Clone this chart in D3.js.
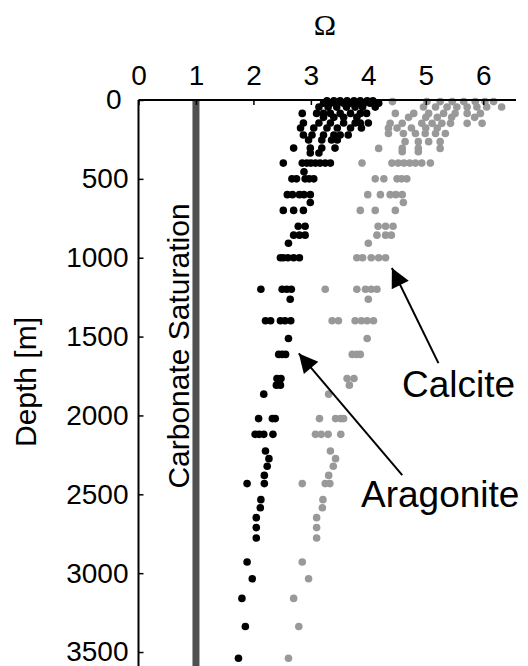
<!DOCTYPE html>
<html>
<head>
<meta charset="utf-8">
<script src="https://cdn.jsdelivr.net/npm/d3@7"></script>
<style>
  body { margin: 0; background: #fff; }
  svg { display: block; font-family: "Liberation Sans", Arial, sans-serif; }
</style>
</head>
<body>
<svg id="chart" width="528" height="666"></svg>
<script>
// Saturation state vs depth, [depth (m), omega]
var aragonite = [
    [5, 3.28], [5, 3.40], [5, 3.51], [5, 3.63], [5, 3.75], [5, 3.86], [5, 3.98], [5, 4.08],
    [20, 3.22], [20, 3.34], [20, 3.46], [20, 3.57], [20, 3.69], [20, 3.80], [20, 3.92], [20, 4.03], [20, 4.18],
    [45, 3.14], [45, 3.30], [45, 3.45], [45, 3.62], [45, 3.77], [45, 3.90], [45, 4.12],
    [85, 2.85], [85, 3.10], [85, 3.22], [85, 3.34], [85, 3.51], [85, 3.69], [85, 3.86], [85, 3.97],
    [110, 3.22], [110, 3.40], [110, 3.57], [110, 3.80],
    [146, 2.87], [146, 3.14], [146, 3.34], [146, 3.57], [146, 3.77], [146, 3.86], [146, 4.00],
    [178, 2.82], [178, 3.05], [178, 3.28], [178, 3.46], [178, 3.69], [178, 3.88],
    [222, 2.87], [222, 3.02], [222, 3.22], [222, 3.40], [222, 3.51], [222, 3.65],
    [254, 2.96], [254, 3.19], [254, 3.36], [254, 3.46],
    [305, 2.70], [305, 2.99], [305, 3.19], [305, 3.42],
    [336, 2.99], [336, 3.14],
    [400, 2.52], [400, 2.85], [400, 2.93], [400, 3.00], [400, 3.08], [400, 3.16], [400, 3.25], [400, 3.34],
    [455, 2.88],
    [500, 2.67], [500, 2.75], [500, 2.90], [500, 2.97], [500, 3.05],
    [600, 2.59], [600, 2.68], [600, 2.80], [600, 2.88], [600, 2.99],
    [650, 2.99],
    [700, 2.52], [700, 2.70], [700, 2.87],
    [800, 2.78], [800, 2.90],
    [857, 2.70], [857, 2.80], [857, 2.90],
    [908, 2.61],
    [1000, 2.47], [1000, 2.52], [1000, 2.60], [1000, 2.70], [1000, 2.80],
    [1200, 2.13], [1200, 2.50], [1200, 2.58], [1200, 2.66],
    [1263, 2.64],
    [1400, 2.21], [1400, 2.30], [1400, 2.47], [1400, 2.55], [1400, 2.65],
    [1512, 2.61],
    [1613, 2.44], [1613, 2.50], [1613, 2.56],
    [1766, 2.41], [1766, 2.48],
    [1808, 2.40], [1808, 2.47],
    [1865, 2.18],
    [2020, 2.09], [2020, 2.33], [2020, 2.38],
    [2120, 2.03], [2120, 2.10], [2120, 2.18], [2120, 2.34],
    [2225, 2.21], [2274, 2.27], [2322, 2.24], [2380, 2.19],
    [2432, 1.89], [2432, 2.19],
    [2534, 2.13], [2585, 2.12], [2648, 2.05], [2711, 2.05], [2777, 2.05],
    [2929, 1.89], [3035, 1.98], [3160, 1.80], [3338, 1.86], [3539, 1.74]
];

var calcite = [
    [10, 4.42], [10, 5.02], [10, 5.25], [10, 5.46], [10, 5.66], [10, 5.86], [10, 6.03], [10, 6.18],
    [44, 4.96], [44, 5.17], [44, 5.37], [44, 5.54], [44, 5.72], [44, 5.89], [44, 6.06], [44, 6.32],
    [85, 4.47], [85, 4.79], [85, 5.05], [85, 5.31], [85, 5.51], [85, 5.72], [85, 5.95],
    [110, 4.70], [110, 5.00], [110, 5.20], [110, 5.45], [110, 5.85],
    [148, 4.38], [148, 4.59], [148, 4.93], [148, 5.11], [148, 5.28], [148, 5.43], [148, 5.72], [148, 5.98],
    [178, 4.35], [178, 4.50], [178, 4.75], [178, 5.00], [178, 5.20],
    [212, 4.35], [212, 4.61], [212, 4.82], [212, 4.99], [212, 5.17], [212, 5.34],
    [264, 4.64], [264, 4.87], [264, 5.05], [264, 5.25],
    [307, 4.18], [307, 4.59], [307, 4.87], [307, 5.25],
    [328, 4.59], [328, 4.87],
    [400, 3.89], [400, 4.41], [400, 4.52], [400, 4.62], [400, 4.72], [400, 4.82], [400, 4.93], [400, 5.08],
    [500, 4.12], [500, 4.27], [500, 4.50], [500, 4.58], [500, 4.67],
    [600, 3.99], [600, 4.21], [600, 4.38], [600, 4.48], [600, 4.59],
    [650, 4.61],
    [700, 3.86], [700, 4.12], [700, 4.47],
    [800, 4.17], [800, 4.30], [800, 4.43],
    [857, 4.15], [857, 4.30], [857, 4.40],
    [908, 4.00],
    [1000, 3.80], [1000, 3.90], [1000, 4.05], [1000, 4.18], [1000, 4.30],
    [1200, 3.25], [1200, 3.80], [1200, 3.95], [1200, 4.05], [1200, 4.15],
    [1263, 4.00],
    [1400, 3.37], [1400, 3.48], [1400, 3.77], [1400, 3.88], [1400, 3.98], [1400, 4.09],
    [1512, 3.98],
    [1613, 3.72], [1613, 3.80], [1613, 3.86],
    [1766, 3.63], [1766, 3.75],
    [1808, 3.67],
    [1865, 3.31],
    [2020, 3.15], [2020, 3.43], [2020, 3.52], [2020, 3.57],
    [2120, 3.08], [2120, 3.18], [2120, 3.30], [2120, 3.52],
    [2225, 3.34], [2274, 3.43], [2322, 3.39], [2380, 3.31],
    [2432, 2.85], [2432, 3.25], [2432, 3.33],
    [2534, 3.21], [2585, 3.20], [2648, 3.10], [2711, 3.10], [2777, 3.10],
    [2929, 2.85], [3035, 2.96], [3160, 2.70], [3338, 2.79], [3539, 2.61]
];

var xTicks = [0, 1, 2, 3, 4, 5, 6];
var yTicks = [0, 500, 1000, 1500, 2000, 2500, 3000, 3500];
var saturation = 1;

// annotation arrows: label, [depth, omega] of tip and tail
var arrows = [
    { label: 'Calcite', tip: [1065, 4.41], tail: [1668, 5.22] },
    { label: 'Aragonite', tip: [1607, 2.79], tail: [2378, 4.59] }
];

var svg = d3.select('#chart');

var x = d3.scaleLinear().domain([0, 6.57]).range([138.5, 516]);
var y = d3.scaleLinear().domain([0, 3600]).range([100, 667.8]);

// Carbonate saturation bar
svg.append('line')
    .attr('x1', x(saturation)).attr('x2', x(saturation))
    .attr('y1', y(0)).attr('y2', 666)
    .style('stroke', '#505050')
    .style('stroke-width', 7);

svg.append('text')
    .attr('transform', 'translate(' + (x(saturation) - 7) + ',346) rotate(-90)')
    .attr('text-anchor', 'middle')
    .style('font-size', '30px')
    .text('Carbonate Saturation');

// Dots
svg.append('g').selectAll('circle')
    .data(calcite)
    .enter().append('circle')
    .attr('cx', function(d) { return x(d[1]); })
    .attr('cy', function(d) { return y(d[0]); })
    .attr('r', 3.8)
    .style('fill', '#999999');

svg.append('g').selectAll('circle')
    .data(aragonite)
    .enter().append('circle')
    .attr('cx', function(d) { return x(d[1]); })
    .attr('cy', function(d) { return y(d[0]); })
    .attr('r', 3.8)
    .style('fill', '#000');

// Axes
var xAxis = d3.axisTop(x).tickValues(xTicks).tickFormat(d3.format('d'))
    .tickSizeInner(-5).tickSizeOuter(0).tickPadding(15);
var gx = svg.append('g')
    .attr('transform', 'translate(0,' + y(0) + ')')
    .call(xAxis);

var yAxis = d3.axisLeft(y).tickValues(yTicks).tickFormat(d3.format('d'))
    .tickSizeInner(-5).tickSizeOuter(0).tickPadding(10);
var gy = svg.append('g')
    .attr('transform', 'translate(' + x(0) + ',0)')
    .call(yAxis);

[gx, gy].forEach(function(g) {
    g.select('.domain').style('stroke', '#000').style('stroke-width', 2);
    g.selectAll('.tick line').style('stroke', '#000').style('stroke-width', 1.5);
    g.selectAll('.tick text')
        .style('font-family', '"Liberation Sans", Arial, sans-serif')
        .style('font-size', '28px')
        .attr('fill', '#000');
});
gy.select('.domain').attr('d', 'M0,' + y(0) + 'V666');
gx.select('.domain').attr('d', 'M' + x(0) + ',0H516');
gy.selectAll('.tick text').filter(function(d) { return d === 0; })
    .attr('x', -17).attr('dy', '0.3em');

svg.append('text')
    .attr('x', 325).attr('y', 35)
    .attr('text-anchor', 'middle')
    .style('font-family', '"Liberation Serif", "Times New Roman", serif')
    .style('font-size', '30px')
    .text('\u03A9');

svg.append('text')
    .attr('transform', 'translate(36,382) rotate(-90)')
    .attr('text-anchor', 'middle')
    .style('font-size', '30px')
    .text('Depth [m]');

// Arrows with labels
svg.append('defs').append('marker')
    .attr('id', 'head')
    .attr('viewBox', '0 0 10 10')
    .attr('refX', 10).attr('refY', 5)
    .attr('markerUnits', 'userSpaceOnUse')
    .attr('markerWidth', 27).attr('markerHeight', 19)
    .attr('orient', 'auto')
    .append('path')
    .attr('d', 'M0,0L10,5L0,10Z')
    .style('fill', '#000');

arrows.forEach(function(a) {
    svg.append('line')
        .attr('x1', x(a.tail[1])).attr('y1', y(a.tail[0]))
        .attr('x2', x(a.tip[1])).attr('y2', y(a.tip[0]))
        .style('stroke', '#000')
        .style('stroke-width', 2)
        .attr('marker-end', 'url(#head)');
});

svg.append('text')
    .attr('x', 402).attr('y', 397)
    .style('font-size', '37px')
    .text(arrows[0].label);

svg.append('text')
    .attr('x', 361).attr('y', 507)
    .style('font-size', '37px')
    .text(arrows[1].label);
</script>
</body>
</html>
